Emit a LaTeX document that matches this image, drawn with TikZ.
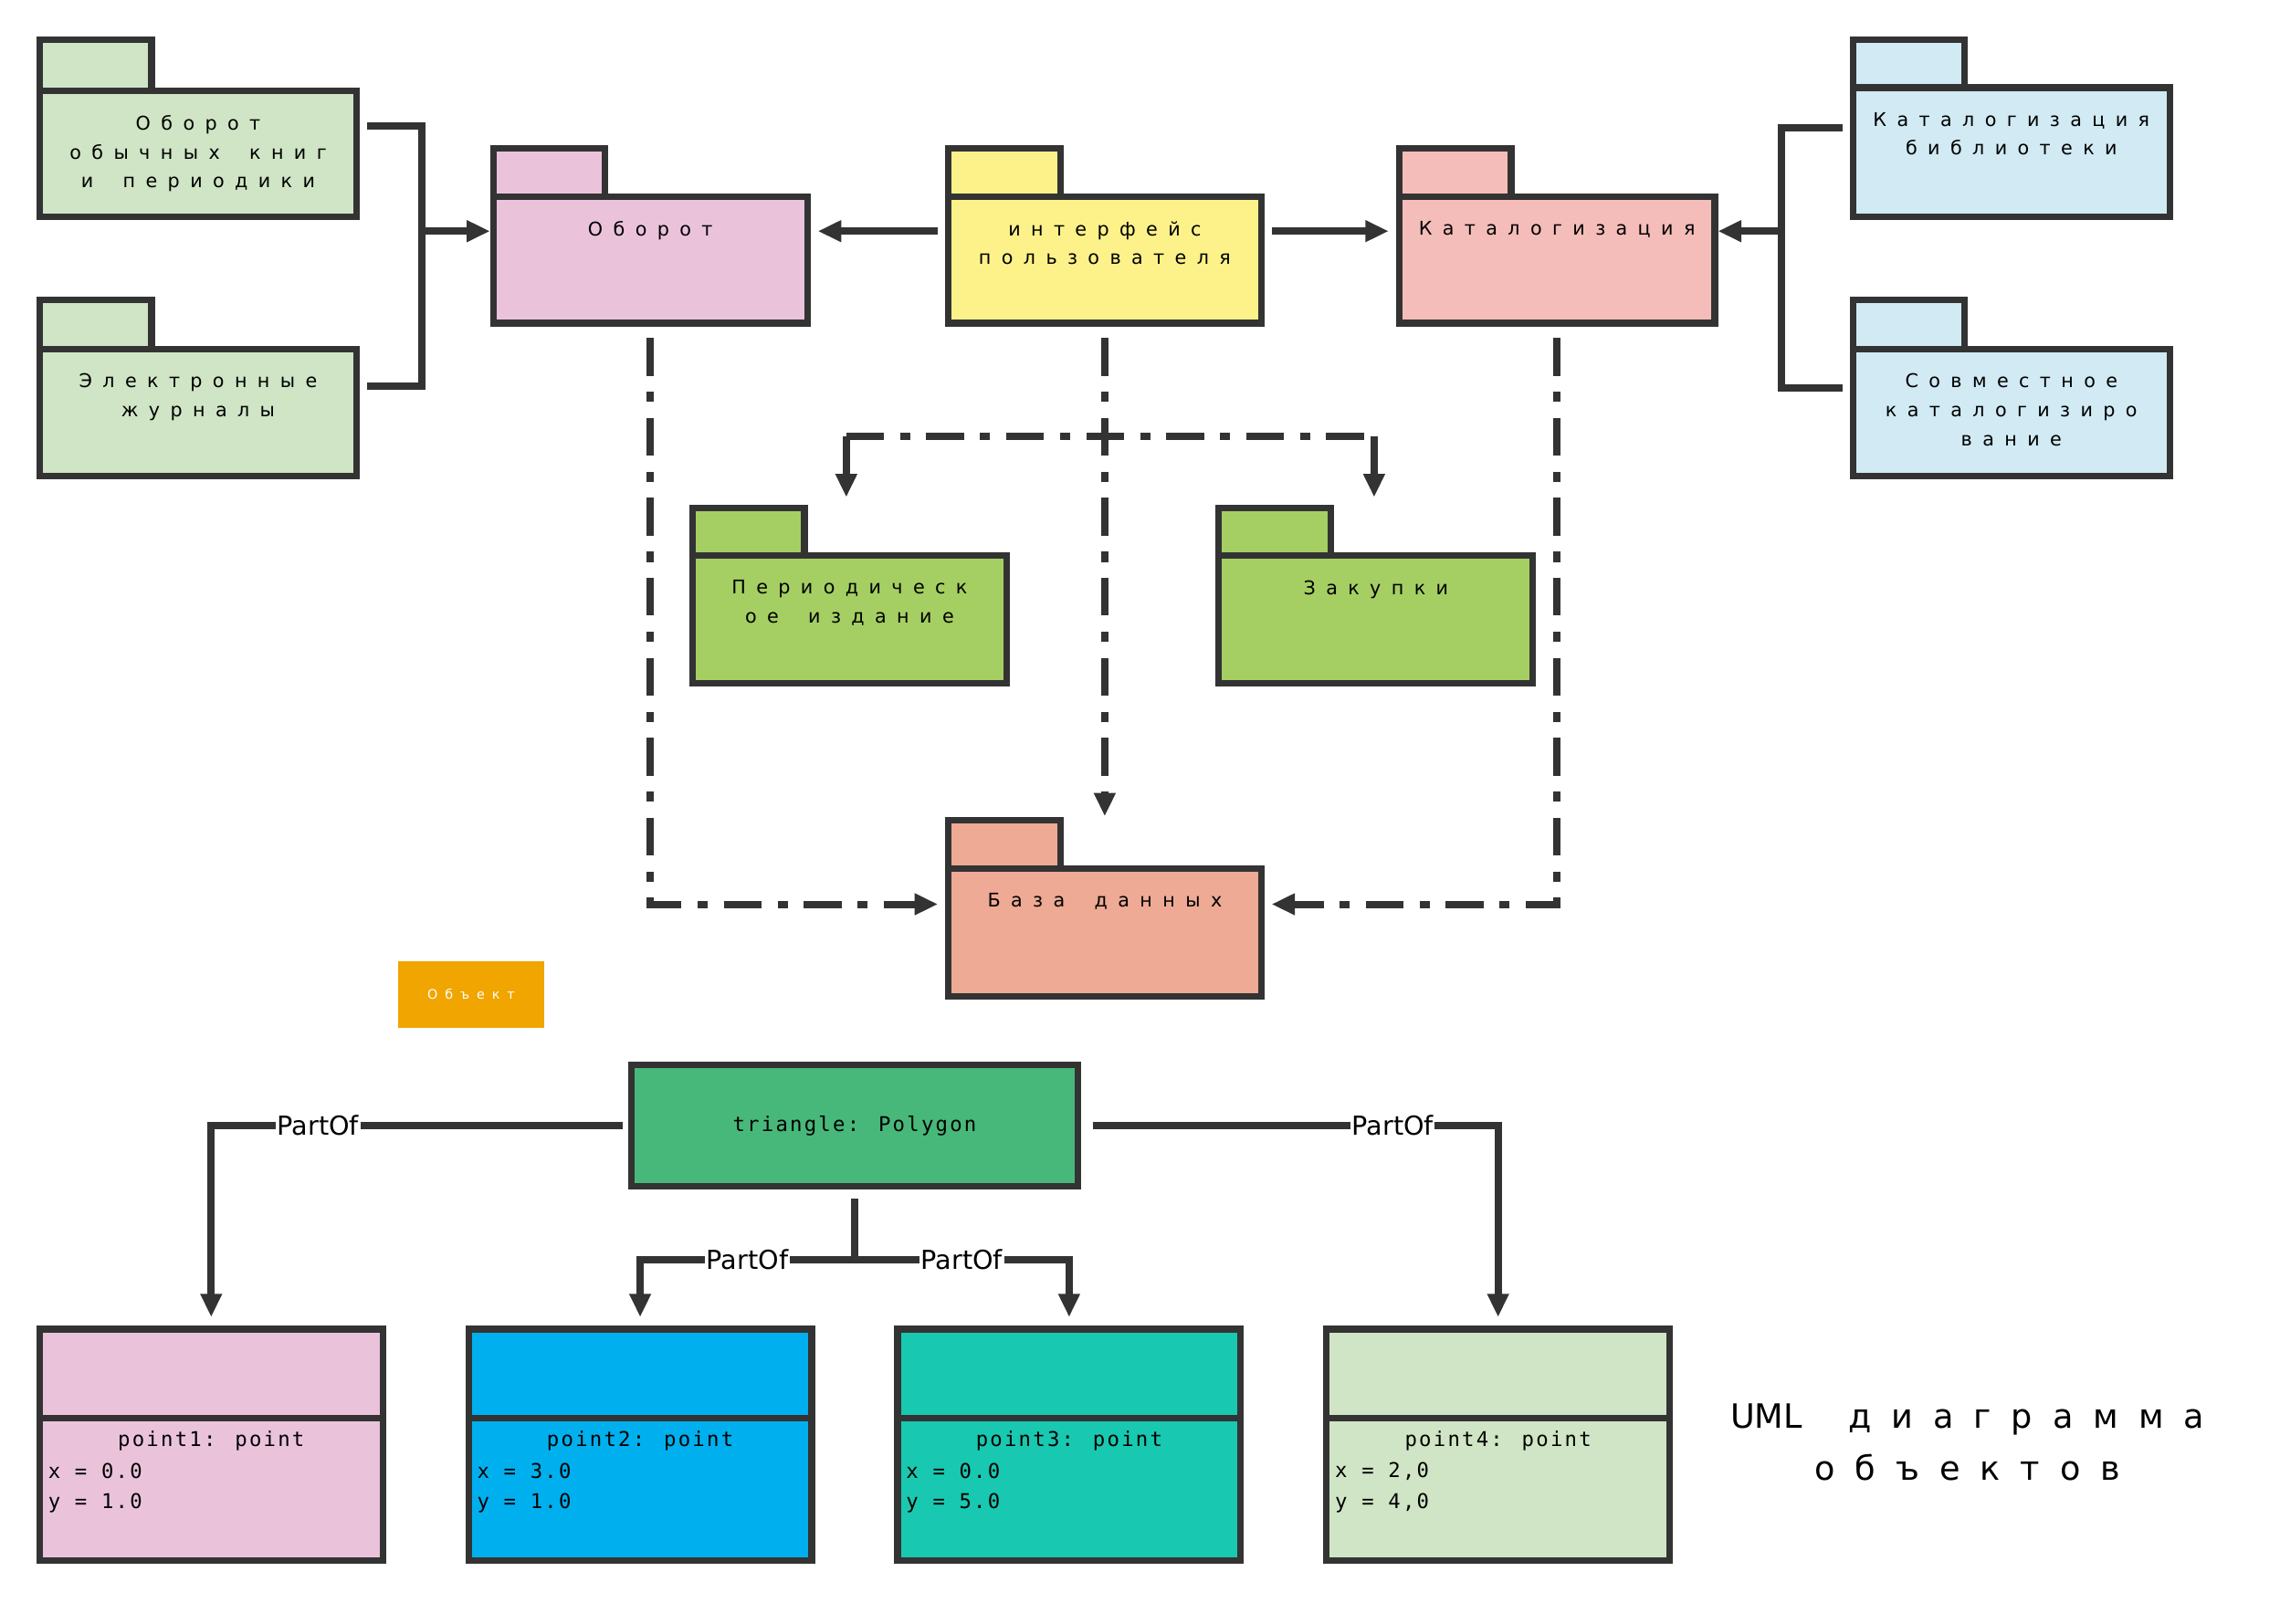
\documentclass[tikz,border=0pt]{standalone}
\usepackage{fontspec}
\setmainfont{DejaVu Sans}
\newfontfamily\spc[LetterSpace=55,WordSpace=1.8]{DejaVu Sans}
\newfontfamily\monof[LetterSpace=10]{DejaVu Sans Mono}
\newfontfamily\titf[LetterSpace=60,WordSpace=1.5]{DejaVu Sans}
\usetikzlibrary{arrows.meta,calc}
\definecolor{ln}{HTML}{333333}
\definecolor{cg}{HTML}{CFE5C5}
\definecolor{cpk}{HTML}{EAC3DB}
\definecolor{cy}{HTML}{FDF28A}
\definecolor{crd}{HTML}{F5BDB9}
\definecolor{cb}{HTML}{D1EAF4}
\definecolor{cgr}{HTML}{A5CF63}
\definecolor{cdb}{HTML}{EEAA94}
\definecolor{cor}{HTML}{F0A500}
\definecolor{ctr}{HTML}{47B87A}
\definecolor{cbl}{HTML}{00B0EE}
\definecolor{ctl}{HTML}{19C8B0}
\tikzset{
 box/.style={draw=ln,line width=4.5pt,anchor=north west,inner sep=0pt},
 ptxt/.style={font=\spc\fontsize{13}{20}\selectfont,align=center,anchor=north,inner sep=0pt},
 con/.style={draw=ln,line width=5pt},
 arr/.style={-{Triangle[length=16pt,width=14pt]}},
 dd/.style={con,dash pattern=on 26pt off 11pt on 7pt off 11pt},
 lab/.style={fill=white,inner sep=1pt,font=\fontsize{18}{18}\selectfont},
 otxt/.style={font=\monof\fontsize{14}{14}\selectfont,inner sep=0pt},
}
\newcommand\pkg[8]{% name,x1,x2,ytab,ybody,ybot,color,text
 \pgfmathsetmacro\ww{#3-#2}\pgfmathsetmacro\hh{#6-#5}\pgfmathsetmacro\th{#5-#4}
 \node[box,fill=#7,minimum width=77pt,minimum height=\th pt] (#1t) at (#2,#4) {};
 \node[box,fill=#7,minimum width=\ww pt,minimum height=\hh pt] (#1) at (#2,#5) {};
 \node[ptxt] (#1x) at ($(#1.north)+(0,19)$) {#8};}
\newcommand\obj[6]{% name,x1,color,title,xl,yl
 \node[box,fill=#3,minimum width=236pt,minimum height=61pt] (#1t) at (#2,912) {};
 \node[box,fill=#3,minimum width=236pt,minimum height=98pt] (#1) at (#2,973) {};
 \node[otxt] (#1a) at ($(#1.north)+(0,18)$) {#4};
 \node[otxt,anchor=west] (#1b) at ($(#1.north west)+(8,39)$) {#5};
 \node[otxt,anchor=west] (#1c) at ($(#1.north west)+(8,61)$) {#6};}
\begin{document}
\begin{tikzpicture}[x=1pt,y=-1pt]
\useasboundingbox[fill=white] (0,0) rectangle (1568,1117);
\pkg{p1}{25}{243}{25}{60}{147}{cg}{Оборот\\обычных книг\\и периодики}
\pkg{p2}{25}{243}{204}{238}{325}{cg}{Электронные\\журналы}
\pkg{obo}{337}{553}{100}{133}{220}{cpk}{Оборот}
\pkg{ui}{650}{865}{100}{133}{220}{cy}{интерфейс\\пользователя}
\pkg{kat}{960}{1177}{100}{133}{220}{crd}{Каталогизация}
\pkg{p6}{1272}{1490}{25}{58}{147}{cb}{Каталогизация\\библиотеки}
\pkg{p7}{1272}{1490}{204}{238}{325}{cb}{Совместное\\каталогизиро\\вание}
\pkg{per}{474}{690}{347}{380}{468}{cgr}{Периодическ\\ое издание}
\pkg{zak}{836}{1052}{347}{380}{468}{cgr}{Закупки}
\pkg{db}{650}{865}{562}{595}{683}{cdb}{База данных}
% connectors
\coordinate (jl) at (290,159);
\coordinate (jr) at (1225,159);
\draw[con] ($(p1.east)+(5,-19)$) -| (jl);
\draw[con] ($(p2.east)+(5,-18)$) -| (jl);
\draw[con,arr] (jl) -- (jl -| obo.west);
\draw[con] ($(p6.west)+(-5,-17)$) -| (jr);
\draw[con] ($(p7.west)+(-5,-17)$) -| (jr);
\draw[con,arr] (jr) -- (jr -| kat.east);
\coordinate (mh) at (0,159);
\draw[con,arr] ($(mh -| ui.west)+(-5,0)$) -- ($(mh -| obo.east)+(5,0)$);
\draw[con,arr] ($(mh -| ui.east)+(5,0)$) -- ($(mh -| kat.west)+(-5,0)$);
\coordinate (mb) at (0,622);
\draw[dd,arr] ($(obo.south)+(0,8)$) |- ($(mb -| db.west)+(-5,0)$);
\draw[dd,arr] ($(kat.south)+(0,8)$) |- ($(mb -| db.east)+(5,0)$);
\draw[dd,arr] ($(ui.south)+(0,8)$) -- ($(ui.south)+(0,337)$);
\coordinate (bl) at (582,300);
\coordinate (br) at (945,300);
\draw[dd] (bl) -- (br);
\draw[con,arr] (bl) -- (582,342);
\draw[con,arr] (br) -- (945,342);
% object label
\node[fill=cor,minimum width=100pt,minimum height=46pt,inner sep=0pt,font=\spc\fontsize{9}{9}\selectfont,text=white] (ob) at (324,684) {Объект};
% object diagram
\node[box,fill=ctr,minimum width=307pt,minimum height=84pt] (tri) at (432,730) {};
\node[otxt] at (tri.center) {triangle: Polygon};
\obj{o1}{25}{cpk}{point1: point}{x = 0.0}{y = 1.0}
\obj{o2}{320}{cbl}{point2: point}{x = 3.0}{y = 1.0}
\obj{o3}{615}{ctl}{point3: point}{x = 0.0}{y = 5.0}
\obj{o4}{910}{cg}{point4: point}{x = 2,0}{y = 4,0}
\draw[con,arr] ($(tri.west)+(-4,0)$) -| node[lab,pos=0.37]{PartOf} ($(o1t.north)+(0,-6)$);
\draw[con,arr] ($(tri.east)+(8,0)$) -| node[lab,pos=0.37]{PartOf} ($(o4t.north)+(0,-6)$);
\coordinate (jb) at ($(tri.south)+(0,48)$);
\draw[con] ($(tri.south)+(0,6)$) -- (jb);
\draw[con,arr] (jb) -| node[lab,pos=0.25]{PartOf} ($(o2t.north)+(0,-6)$);
\draw[con,arr] (jb) -| node[lab,pos=0.25]{PartOf} ($(o3t.north)+(0,-6)$);
\node[font=\titf\fontsize{23}{36}\selectfont,align=center] (title) at (1353,992) {{\fontspec{DejaVu Sans}UML} диаграмма\\объектов};
\end{tikzpicture}
\end{document}
